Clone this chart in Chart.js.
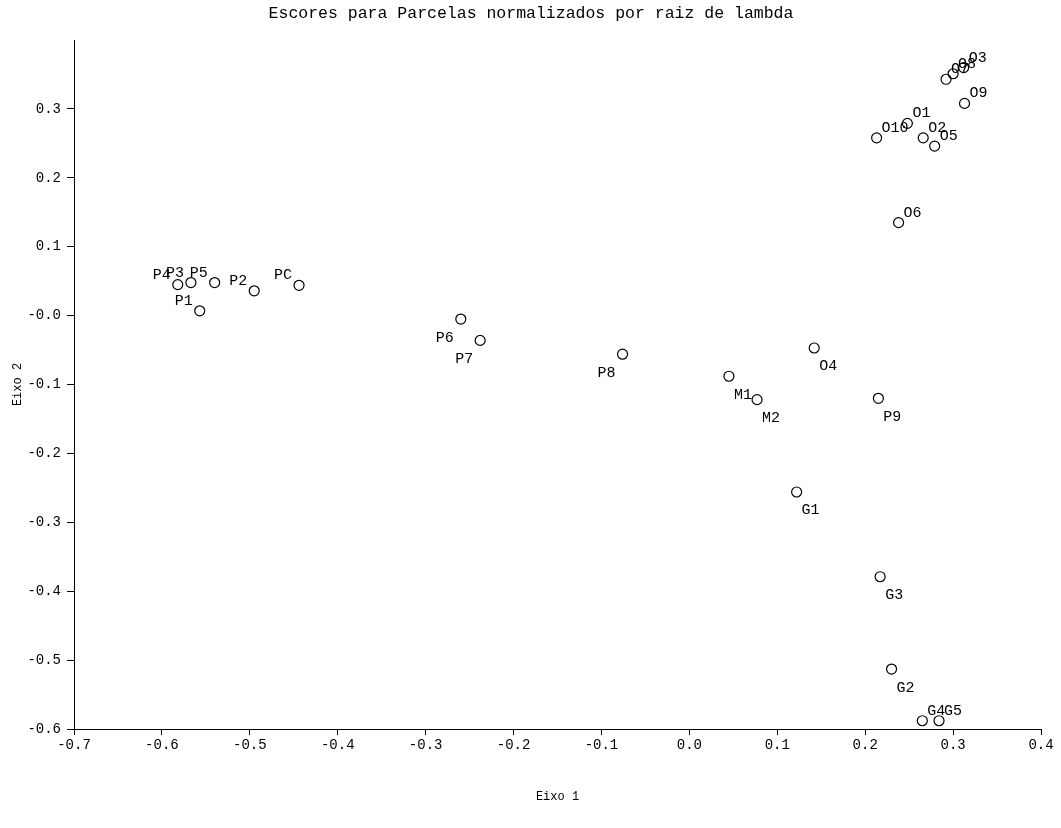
<!DOCTYPE html>
<html>
<head>
<meta charset="utf-8">
<script src="https://cdn.jsdelivr.net/npm/chart.js@4/dist/chart.umd.min.js"></script>
<style>
  html, body { margin: 0; padding: 0; background: #fff; }
  #wrap { width: 1061px; height: 828px; }
</style>
</head>
<body>
<div id="wrap"><canvas id="c" width="1061" height="828"></canvas></div>
<script>
// ---- data ----
const titleText = 'Escores para Parcelas normalizados por raiz de lambda';
const xAxisTitle = 'Eixo 1';
const yAxisTitle = 'Eixo 2';

const pointNames = ['O1','O2','O3','O4','O5','O6','O7','O8','O9','O10',
                    'P1','P2','P3','P4','P5','PC','P6','P7','P8','P9',
                    'M1','M2','G1','G2','G3','G4','G5'];
const xValues = [0.248, 0.266, 0.312, 0.142, 0.279, 0.238, 0.292, 0.300, 0.313, 0.213,
                 -0.557, -0.495, -0.567, -0.582, -0.540, -0.444, -0.260, -0.238, -0.076, 0.215,
                 0.045, 0.077, 0.122, 0.230, 0.217, 0.265, 0.284];
const yValues = [0.279, 0.258, 0.360, -0.047, 0.246, 0.135, 0.343, 0.351, 0.308, 0.258,
                 0.007, 0.036, 0.048, 0.045, 0.048, 0.044, -0.005, -0.036, -0.056, -0.120,
                 -0.088, -0.122, -0.256, -0.513, -0.379, -0.588, -0.588];
// label placement relative to the point (compass direction)
const labelPlacement = ['ne','ne','ne','se','ne','ne','ne','ne','ne','ne',
                        'nw','nw','nw','nw','nw','nw','sw','sw','sw','se',
                        'se','se','se','se','se','ne','ne'];

const xTickValues = [-0.7,-0.6,-0.5,-0.4,-0.3,-0.2,-0.1,0.0,0.1,0.2,0.3,0.4];
const xTickLabels = ['-0.7','-0.6','-0.5','-0.4','-0.3','-0.2','-0.1','0.0','0.1','0.2','0.3','0.4'];
const yTickValues = [-0.6,-0.5,-0.4,-0.3,-0.2,-0.1,0.0,0.1,0.2,0.3];
const yTickLabels = ['-0.6','-0.5','-0.4','-0.3','-0.2','-0.1','-0.0','0.1','0.2','0.3'];

// ---- chart ----
const FONT = "'Liberation Mono', 'DejaVu Sans Mono', monospace";

function tickLabel(values, labels, v) {
  for (let i = 0; i < values.length; i++) {
    if (Math.abs(values[i] - v) < 1e-6) return labels[i];
  }
  return null;
}

const pointLabelPlugin = {
  id: 'pointLabels',
  afterDatasetsDraw(chart) {
    const ctx = chart.ctx;
    const meta = chart.getDatasetMeta(0);
    ctx.save();
    ctx.font = "15px " + FONT;
    ctx.fillStyle = '#000';
    meta.data.forEach((pt, i) => {
      const p = labelPlacement[i];
      let x = pt.x, y = pt.y;
      if (p[1] === 'e') { ctx.textAlign = 'left'; x += 5; }
      else { ctx.textAlign = 'right'; x -= 7; }
      if (p[0] === 'n') { ctx.textBaseline = 'alphabetic'; y -= 6; }
      else { ctx.textBaseline = 'top'; y += 11; }
      ctx.fillText(pointNames[i], x, y);
    });
    ctx.restore();
  }
};

const titlePlugin = {
  id: 'topTitle',
  afterDraw(chart) {
    const ctx = chart.ctx;
    ctx.save();
    ctx.font = "16.5px " + FONT;
    ctx.fillStyle = '#000';
    ctx.textAlign = 'center';
    ctx.textBaseline = 'middle';
    ctx.fillText(titleText, 531, 14);
    ctx.restore();
  }
};

new Chart(document.getElementById('c'), {
  type: 'scatter',
  data: {
    datasets: [{
      data: xValues.map((x, i) => ({ x: x, y: yValues[i] })),
      pointStyle: 'circle',
      pointRadius: 5,
      pointHoverRadius: 5,
      borderColor: '#000',
      backgroundColor: 'rgba(255,255,255,0)',
      borderWidth: 1.2
    }]
  },
  options: {
    responsive: false,
    devicePixelRatio: 1,
    animation: false,
    events: [],
    layout: { padding: { top: 40, right: 20, left: 0, bottom: 0 } },
    plugins: { legend: { display: false }, tooltip: { enabled: false }, title: { display: false } },
    scales: {
      x: {
        type: 'linear',
        min: -0.7, max: 0.4,
        afterFit(s) { s.height = 99; },
        afterBuildTicks(s) { s.ticks = xTickValues.map(v => ({ value: v })); },
        ticks: {
          color: '#000',
          font: { family: FONT, size: 14 },
          padding: 2,
          maxRotation: 0,
          autoSkip: false,
          callback: v => tickLabel(xTickValues, xTickLabels, v)
        },
        grid: { display: true, drawOnChartArea: false, drawTicks: true, tickLength: 6, color: '#000', lineWidth: 1 },
        border: { display: true, color: '#000', width: 1 },
        title: { display: true, text: xAxisTitle, color: '#000', font: { family: FONT, size: 12 }, padding: { top: 0, bottom: 24 } }
      },
      y: {
        type: 'linear',
        min: -0.6, max: 0.4,
        afterFit(s) { s.width = 74; },
        afterBuildTicks(s) { s.ticks = yTickValues.map(v => ({ value: v })); },
        ticks: {
          color: '#000',
          font: { family: FONT, size: 14 },
          padding: 6,
          autoSkip: false,
          callback: v => tickLabel(yTickValues, yTickLabels, v)
        },
        grid: { display: true, drawOnChartArea: false, drawTicks: true, tickLength: 7, color: '#000', lineWidth: 1 },
        border: { display: true, color: '#000', width: 1 },
        title: { display: true, text: yAxisTitle, color: '#000', font: { family: FONT, size: 12 }, padding: { top: 11, bottom: 0 } }
      }
    }
  },
  plugins: [pointLabelPlugin, titlePlugin]
});
</script>
</body>
</html>
